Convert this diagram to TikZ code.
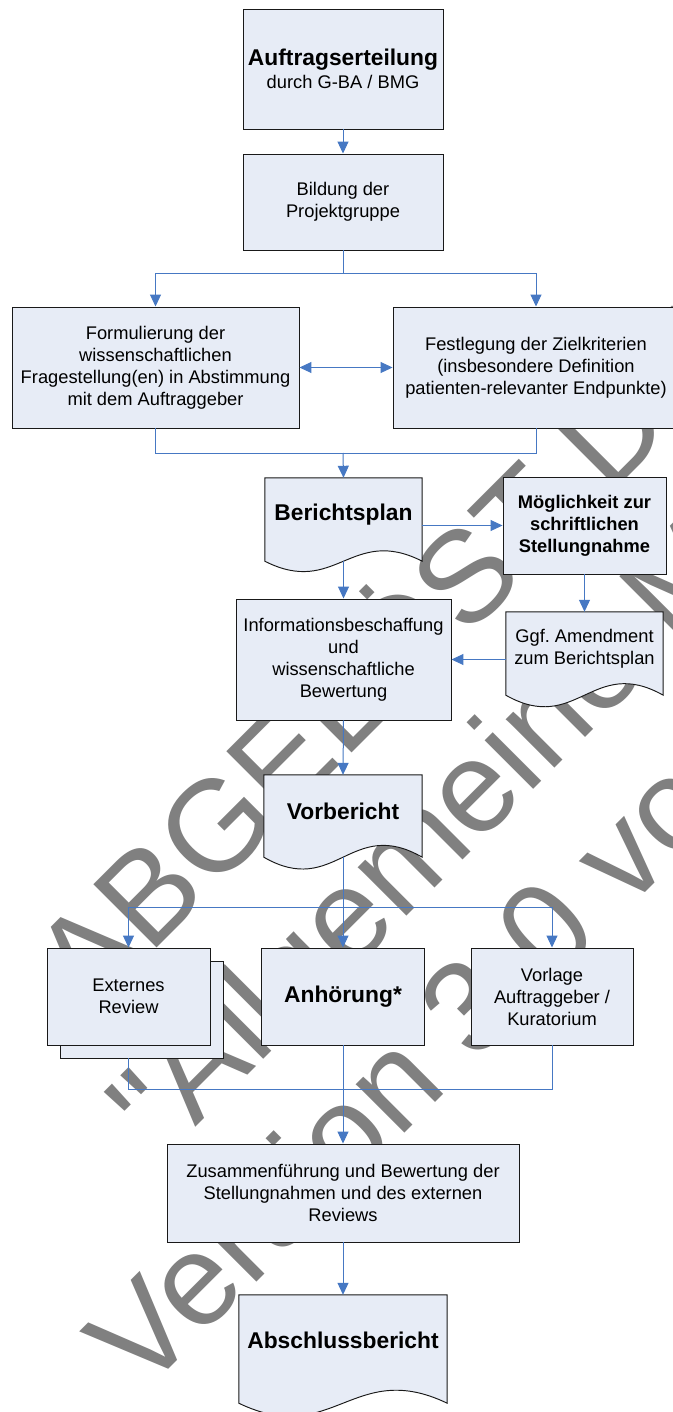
\documentclass[tikz,border=0pt]{standalone}
\usepackage{fontspec}
\setmainfont{Liberation Sans}
\newfontfamily\wmfamily{Liberation Sans}[Ligatures=TeXOff]
\usetikzlibrary{arrows.meta,calc}
\definecolor{boxfill}{RGB}{231,236,246}
\definecolor{lineblue}{RGB}{70,120,195}
\definecolor{wmgray}{RGB}{128,128,128}
\newcommand\txtnorm{\fontsize{18.3}{22}\selectfont}
\newcommand\txtbig{\fontsize{22.8}{26}\selectfont\bfseries}
\newcommand\txtwm{\wmfamily\fontsize{130}{150}\selectfont}
\newcommand\docpath[2]{%
  \path[docshape] (#1.north west) -- (#1.north east) -- (#1.south east)
    .. controls ($(#1.south west)!0.55!(#1.south east)+(0,-#2)$) and ($(#1.south west)!0.45!(#1.south east)+(0,#2)$) .. (#1.south west) -- cycle;}
\frenchspacing
\begin{document}
\begin{tikzpicture}[x=1pt,y=-1pt,
  box/.style={draw=black!90, line width=0.95pt, fill=boxfill, inner sep=0pt, align=center, font=\txtnorm},
  docarea/.style={inner sep=0pt, draw=none},
  docshape/.style={draw=black!90, line width=0.95pt, fill=boxfill},
  plaintext/.style={inner sep=0pt, align=center, font=\txtnorm},
  conn/.style={draw=lineblue, line width=1pt},
  arr/.style={conn, -{Triangle[length=12pt,width=11pt]}},
  wm/.style={anchor=base west, inner sep=0pt, rotate=45, text=wmgray, font=\txtwm}
]
\useasboundingbox (0,0) rectangle (672,1412);
\fill[white] (0,0) rectangle (672,1412);
% watermark
\begin{scope}
\clip (0,0) rectangle (672,1412);
\node[wm] (wm1) at (88.5,1016.5) {ABGELÖST DURCH};
\node[wm] (wm2) at (163,1160) {\char"0022 Allgemeine Methoden};
\node[wm] (wm3) at (142.5,1395.5) {Version 3.0 vom};
\end{scope}
% boxes
\node[box, minimum width=200, minimum height=120] (auf) at (343,69) {{\txtbig Auftragserteilung}\\[1.6pt]durch G-BA / BMG};
\node[box, minimum width=200, minimum height=96] (bil) at (343,202) {Bildung der\\Projektgruppe};
\node[box, minimum width=287, minimum height=121] (form) at (155.5,367.5) {Formulierung der\\wissenschaftlichen\\Fragestellung(en) in Abstimmung\\mit dem Auftraggeber};
\node[box, minimum width=286, minimum height=121] (fest) at (536,367.5) {Festlegung der Zielkriterien\\(insbesondere Definition\\patienten-relevanter Endpunkte)};
% Berichtsplan (document)
\node[docarea, minimum width=157, minimum height=83] (bp) at (343.5,519.5) {};
\docpath{bp}{36}
\node[plaintext, font=\txtbig, anchor=base] (bpt) at (343.5,520) {Berichtsplan};
\node[box, font=\txtnorm\bfseries, minimum width=163, minimum height=97] (mog) at (584.5,525.5) {Möglichkeit zur\\schriftlichen\\Stellungnahme};
% Amendment (document)
\node[docarea, minimum width=157, minimum height=83] (ggf) at (584.5,653.5) {};
\docpath{ggf}{40}
\node[plaintext] (ggft) at (584.5,649) {Ggf. Amendment\\zum Berichtsplan};
\node[box, minimum width=215, minimum height=121] (info) at (343.5,659.5) {Informationsbeschaffung\\und\\wissenschaftliche\\Bewertung};
% Vorbericht (document)
\node[docarea, minimum width=158, minimum height=82] (vb) at (343,816) {};
\docpath{vb}{41}
\node[plaintext, font=\txtbig, anchor=base] (vbt) at (343,819) {Vorbericht};
% second row
\node[box, minimum width=163, minimum height=97] (extb) at (141.5,1009.5) {};
\node[box, minimum width=163, minimum height=97] (ext) at (128.5,996.5) {Externes\\Review};
\node[box, font=\txtbig, minimum width=163, minimum height=97] (anh) at (343,996.5) {Anhörung*};
\node[box, minimum width=162, minimum height=97] (vl) at (552,996.5) {Vorlage\\Auftraggeber /\\Kuratorium};
\node[box, minimum width=352, minimum height=98] (zus) at (343,1193) {Zusammenführung und Bewertung der\\Stellungnahmen und des externen\\Reviews};
% Abschlussbericht (document)
\node[docarea, minimum width=208, minimum height=108] (abs) at (343,1349) {};
\docpath{abs}{45}
\node[plaintext, font=\txtbig, anchor=base] (abst) at (343,1348) {Abschlussbericht};
% helper coordinates
\coordinate (s1) at (343,274);
\coordinate (m1) at (343,453);
\coordinate (s2) at (343,907);
\coordinate (m2) at (343,1089);
% connectors
\draw[arr] (auf.south) -- (bil.north);
\draw[conn] (bil.south) -- (s1);
\draw[arr] (s1) -| (form.north);
\draw[arr] (s1) -| (fest.north);
\draw[conn, {Triangle[length=12pt,width=11pt]}-{Triangle[length=12pt,width=11pt]}] (form.east) -- (fest.west);
\draw[conn] (form.south) |- (m1);
\draw[conn] (fest.south) |- (m1);
\draw[arr] (m1) -- (bp.north);
\draw[arr] (bp.east |- mog.west) -- (mog.west);
\draw[arr] (mog.south) -- (ggf.north);
\draw[arr] (ggf.west |- info.east) -- (info.east);
\draw[arr] (bp.south) -- (info.north);
\draw[arr] (info.south) -- (vb.north);
\draw[arr] (vb.south) -- (anh.north);
\draw[arr] (s2) -| (ext.north);
\draw[arr] (s2) -| (vl.north);
\draw[conn] (ext.south |- extb.south) |- (m2);
\draw[conn] (vl.south) |- (m2);
\draw[arr] (anh.south) -- (zus.north);
\draw[arr] (zus.south) -- (abs.north);
\end{tikzpicture}
\end{document}
